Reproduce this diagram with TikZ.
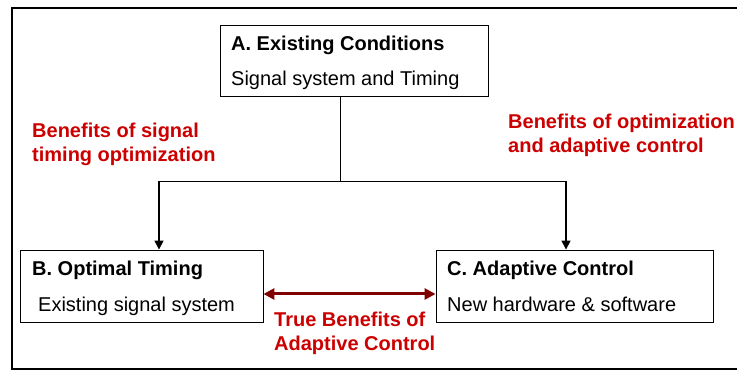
\documentclass[tikz,border=0pt]{standalone}
\usepackage{fontspec}
\setmainfont{Liberation Sans}
\usetikzlibrary{arrows.meta}
\definecolor{lblred}{HTML}{CC0000}
\definecolor{darkred}{HTML}{800000}
\begin{document}
\begin{tikzpicture}[x=1pt,y=-1pt,
  box/.style={draw=black,line width=0.9pt,inner sep=0pt},
  txt/.style={anchor=base west,inner sep=0pt,font=\fontsize{20}{24}\selectfont},
  hdr/.style={txt,font=\fontsize{20}{24}\selectfont\bfseries},
  red/.style={anchor=base west,inner sep=0pt,align=left,text=lblred,font=\fontsize{20}{24.5}\selectfont\bfseries},
  conn/.style={line width=0.9pt},
  arr/.style={line width=1.6pt,-{Triangle[length=9pt,width=9pt]}}]
\useasboundingbox (0,0) rectangle (737,371);
\draw[line width=2.5pt] (737,8) -- (12,8) -- (12,369) -- (737,369);
% boxes
\node[box,minimum width=268pt,minimum height=71pt] (A) at (354,61) {};
\node[box,minimum width=243pt,minimum height=72pt] (B) at (141.5,286) {};
\node[box,minimum width=277pt,minimum height=72pt] (C) at (574.5,286) {};
% texts
\node[hdr] (at) at (231,51) {A. Existing Conditions};
\node[txt] (as) at (231,86) {Signal system and Timing};
\node[hdr] (bt) at (32,276) {B. Optimal Timing};
\node[txt] (bs) at (38,312) {Existing signal system};
\node[hdr] (ct) at (447,276) {C. Adaptive Control};
\node[txt] (cs) at (447,312) {New hardware \& software};
% connectors
\coordinate (j) at (340.5,181);
\coordinate (jl) at (159,181);
\coordinate (jr) at (566,181);
\draw[conn] (A.south -| j) -- (j);
\draw[conn] (jl) -- (jr);
\draw[arr] (jl) -- (B.north -| jl);
\draw[arr] (jr) -- (C.north -| jr);
\draw[line width=3pt,darkred,{Triangle[length=11pt,width=11pt]}-{Triangle[length=11pt,width=11pt]}] (B.east |- 0,294) -- (C.west |- 0,294);
% red labels (anchored at the baseline of the last line)
\node[red] (l1) at (32,162) {Benefits of signal\\timing optimization};
\node[red] (l2) at (508,153) {Benefits of optimization\\and adaptive control};
\node[red] (l3) at (274,351) {True Benefits of\\Adaptive Control};
\end{tikzpicture}
\end{document}
